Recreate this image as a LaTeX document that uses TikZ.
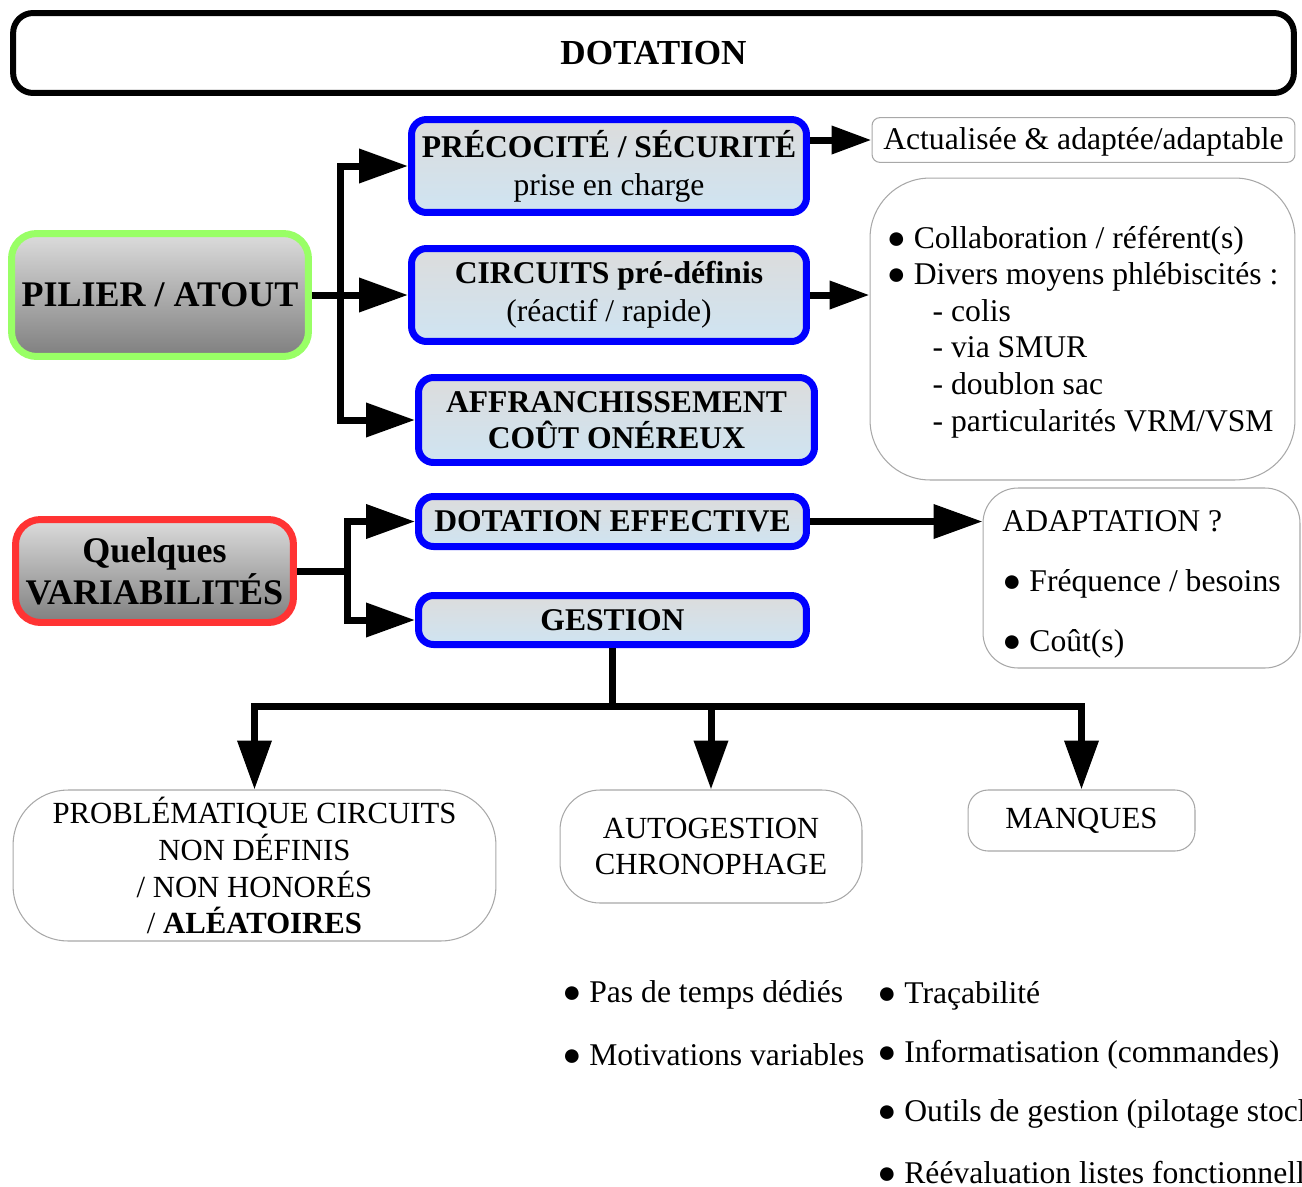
\documentclass[tikz,border=0pt]{standalone}
\usepackage{fontspec}
\setmainfont{Liberation Serif}
\usetikzlibrary{arrows.meta}

\definecolor{pilgreen}{HTML}{99FF66}
\definecolor{varred}{HTML}{FF3333}
\definecolor{topgrey}{HTML}{DCDCDC}
\definecolor{lowgrey}{HTML}{7F7F7F}
\definecolor{lowblue}{HTML}{CFE4F2}
\definecolor{softline}{HTML}{A8A8A8}

\tikzset{
  titlebox/.style={draw, line width=0.12cm, rounded corners=0.4cm,
    font=\bfseries\fontsize{20}{24}\selectfont},
  headbox/.style={line width=0.14cm, rounded corners=0.5cm, inner xsep=2pt,
    top color=topgrey, bottom color=lowgrey, align=center,
    font=\bfseries\fontsize{20.5}{24}\selectfont},
  bluebox/.style={draw=blue, line width=0.14cm, rounded corners=0.3cm, inner xsep=2pt,
    top color=topgrey, bottom color=lowblue, align=center,
    font=\fontsize{18}{21.5}\selectfont},
  softbox/.style={draw=softline, line width=0.6pt, align=center,
    font=\fontsize{18}{21}\selectfont},
  plain/.style={inner sep=0pt, font=\fontsize{18}{21}\selectfont},
  link/.style={line width=0.14cm},
  arr/.style={link, -{Triangle[length=0.98cm, width=0.66cm]}},
  smallarr/.style={link, -{Triangle[length=0.8cm, width=0.54cm]}}
}

\begin{document}
\begin{tikzpicture}[x=0.02cm, y=-0.02cm]

\useasboundingbox (0,0) rectangle (1302,1187);
\clip (0,0) rectangle (1302,1187);

    % title
    \node[titlebox, minimum width=25.62cm, minimum height=1.6cm] (title) at (653.5,53) {DOTATION};

    % left column
    \node[headbox, draw=pilgreen, minimum width=5.94cm, minimum height=2.46cm] (pilier) at (160,295) {PILIER / ATOUT};
    \node[headbox, draw=varred, minimum width=5.56cm, minimum height=2.06cm] (quelques) at (154.5,571) {Quelques\\VARIABILITÉS};

    % blue boxes
    \node[bluebox, minimum width=7.9cm, minimum height=1.86cm] (precoc) at (609,166)
        {\textbf{PRÉCOCITÉ / SÉCURITÉ}\\prise en charge};
    \node[bluebox, minimum width=7.9cm, minimum height=1.86cm] (circuits) at (609,295)
        {\textbf{CIRCUITS pré-définis}\\(réactif / rapide)};
    \node[bluebox, minimum width=7.92cm, minimum height=1.7cm, font=\bfseries\fontsize{18}{20.4}\selectfont] (affranch) at (616.5,420)
        {AFFRANCHISSEMENT\\COÛT ONÉREUX};
    \node[bluebox, minimum width=7.76cm, minimum height=1.0cm, font=\bfseries\fontsize{18}{21}\selectfont] (doteff) at (612.5,521.5)
        {DOTATION EFFECTIVE};
    \node[bluebox, minimum width=7.76cm, minimum height=0.98cm, font=\bfseries\fontsize{18}{21}\selectfont] (gestion) at (612.5,620)
        {GESTION};

    % right boxes
    \node[softbox, rounded corners=0.16cm, minimum width=8.46cm, minimum height=0.88cm] (actual) at (1083.5,140)
        {\rule{0pt}{15pt}Actualisée \& adaptée/adaptable};
    \node[softbox, rounded corners=1.2cm, align=left, minimum width=8.5cm, minimum height=6.04cm,
        font=\fontsize{18}{20.8}\selectfont] (moyens) at (1082.5,329)
        {\rule{0pt}{16pt}● Collaboration / référent(s)\\
         ● Divers moyens phlébiscités :\\
         \hspace*{0.92cm}- colis\\
         \hspace*{0.92cm}- via SMUR\\
         \hspace*{0.92cm}- doublon sac\\
         \hspace*{0.92cm}- particularités VRM/VSM};
    \node[softbox, rounded corners=0.7cm, align=left, minimum width=6.34cm, minimum height=3.6cm,
        font=\fontsize{18}{34}\selectfont] (adapt) at (1141.5,578)
        {\rule{0pt}{19pt}ADAPTATION ?\\● Fréquence / besoins\\● Coût(s)};

    % bottom boxes
    \node[softbox, rounded corners=1.1cm, minimum width=9.66cm, minimum height=3.02cm,
        font=\fontsize{17.5}{21}\selectfont] (probl) at (254.5,865.5)
        {PROBLÉMATIQUE CIRCUITS\\NON DÉFINIS\\/ NON HONORÉS\\/ \textbf{ALÉATOIRES}};
    \node[softbox, rounded corners=0.8cm, minimum width=6.04cm, minimum height=2.26cm,
        font=\fontsize{17.5}{20.5}\selectfont] (autog) at (711,846.5)
        {AUTOGESTION\\CHRONOPHAGE};
    \node[softbox, rounded corners=0.4cm, minimum width=4.54cm, minimum height=1.22cm,
        font=\fontsize{17.5}{21}\selectfont] (manques) at (1081.5,820.5) {MANQUES};

    % loose lists
    \foreach \y/\t [count=\i] in {995/Pas de temps dédiés, 1055/Motivations variables}
        \node[plain, anchor=west] (ga\i) at (562,\y) {● \t};
    \foreach \y/\t [count=\i] in {996/Traçabilité, 1055/Informatisation (commandes),
        1114/Outils de gestion (pilotage stocks), 1173/Réévaluation listes fonctionnelles}
        \node[plain, anchor=west] (gb\i) at (877,\y) {● \t};

    % connectors
    \coordinate (j1) at (340,295);
    \coordinate (j2) at (347,571);
    \coordinate (j3) at (612.5,706);

    \draw[arr] (pilier.east) -- (circuits.west);
    \draw[arr] (j1) |- (precoc.west);
    \draw[arr] (j1) |- (affranch.west);
    \draw[smallarr] (precoc.east |- actual.west) -- (actual.west);
    \draw[smallarr] (circuits.east) -- (circuits.east -| moyens.west);

    \draw[link] (quelques.east) -- (j2);
    \draw[arr] (j2) |- (doteff.west);
    \draw[arr] (j2) |- (gestion.west);
    \draw[arr] (doteff.east) -- (doteff.east -| adapt.west);

    \draw[link] (gestion.south) -- (j3);
    \draw[arr] (j3) -| (probl.north);
    \draw[arr] (j3) -| (autog.north);
    \draw[arr] (j3) -| (manques.north);

\end{tikzpicture}
\end{document}
